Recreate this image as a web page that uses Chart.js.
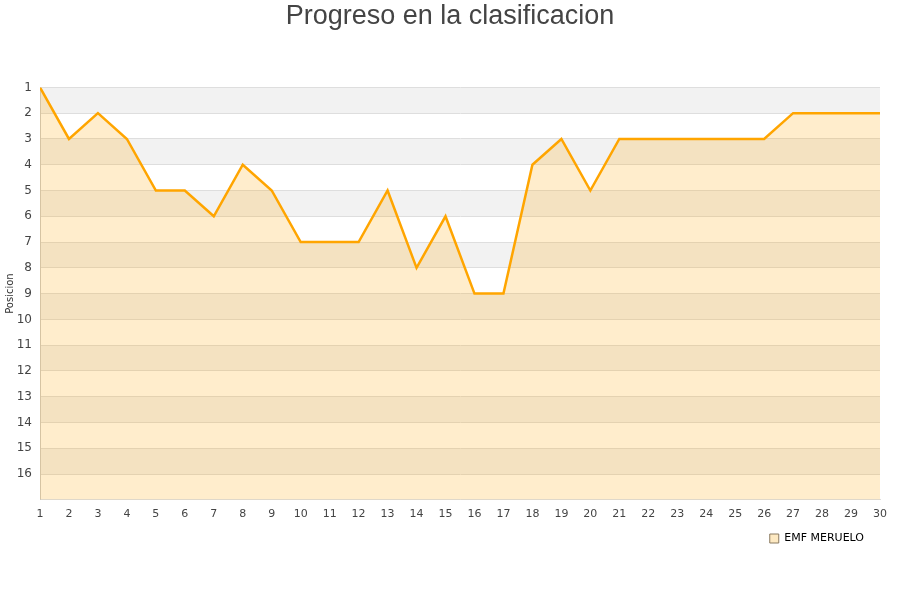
<!DOCTYPE html>
<html>
<head>
<meta charset="utf-8">
<script src="https://cdn.jsdelivr.net/npm/chart.js@4.4.0/dist/chart.umd.min.js"></script>
<style>
  html, body { margin: 0; padding: 0; background: #fff; }
  #wrap { width: 900px; height: 600px; }
</style>
</head>
<body>
<div id="wrap"><canvas id="chart"></canvas></div>
<script>
// jornadas y posicion en cada una
const jornadas = [1, 2, 3, 4, 5, 6, 7, 8, 9, 10, 11, 12, 13, 14, 15, 16, 17, 18, 19, 20, 21, 22, 23, 24, 25, 26, 27, 28, 29, 30];
const posiciones = [1, 3, 2, 3, 5, 5, 6, 4, 5, 7, 7, 7, 5, 8, 6, 9, 9, 4, 3, 5, 3, 3, 3, 3, 3, 3, 2, 2, 2, 2];
const equipo = 'EMF MERUELO';
const numEquipos = 16;

// franjas grises alternas en el fondo
const bandas = {
	id: 'bandas',
	afterLayout(chart) {
		// leyenda un poco metida hacia dentro, titulo centrado en el lienzo
		chart.legend.right = chart.chartArea.right - 12;
		chart.titleBlock.right = chart.width;
	},
	beforeDraw(chart) {
		const ctx = chart.ctx, area = chart.chartArea, y = chart.scales.y;
		ctx.save();
		ctx.fillStyle = '#f2f2f2';
		for (let v = 1; v < numEquipos; v += 2) {
			const top = y.getPixelForValue(v);
			const bottom = y.getPixelForValue(v + 1);
			ctx.fillRect(area.left, top, area.right - area.left, bottom - top);
		}
		ctx.restore();
	}
};

new Chart(document.getElementById('chart'), {
	type: 'line',
	data: {
		datasets: [{
			label: equipo,
			data: jornadas.map((j, i) => ({x: j, y: posiciones[i]})),
			borderColor: '#ffa500',
			backgroundColor: 'rgba(255,165,0,0.2)',
			borderWidth: 2.5,
			pointRadius: 0,
			tension: 0,
			fill: 'start'
		}]
	},
	options: {
		responsive: true,
		maintainAspectRatio: false,
		animation: false,
		layout: { padding: { left: 0, right: 20, top: 0, bottom: 46 } },
		plugins: {
			title: {
				display: true,
				text: 'Progreso en la clasificacion',
				color: '#444',
				font: { family: 'Liberation Sans', size: 27, weight: 'normal' },
				padding: { top: 0, bottom: 55 }
			},
			legend: {
				position: 'bottom',
				align: 'end',
				labels: {
					color: '#000',
					font: { family: 'DejaVu Sans', size: 11 },
					boxWidth: 9,
					boxHeight: 9,
					padding: 4,
					generateLabels: (chart) => [{
						text: equipo,
						fillStyle: '#fde9c2',
						strokeStyle: '#8a7a60',
						lineWidth: 1,
						datasetIndex: 0
					}]
				}
			},
			tooltip: { enabled: false }
		},
		scales: {
			x: {
				type: 'linear',
				min: 1,
				max: 30,
				grid: { display: false, drawTicks: false },
				border: { color: '#ddd' },
				ticks: {
					stepSize: 1,
					color: '#444',
					padding: 8,
					font: { family: 'DejaVu Sans', size: 11 },
					maxRotation: 0,
					autoSkip: false
				}
			},
			y: {
				reverse: true,
				min: 1,
				max: numEquipos + 1,
				grid: { color: '#dedede', drawTicks: false },
				border: { color: '#ccc' },
				afterFit: (scale) => { scale.width = 40; },
				title: {
					display: true,
					text: 'Posicion',
					color: '#333',
					font: { family: 'DejaVu Sans', size: 10 },
					padding: { top: 4, bottom: 0 }
				},
				ticks: {
					stepSize: 1,
					color: '#444',
					padding: 8,
					font: { family: 'DejaVu Sans', size: 12 },
					callback: (v) => v > numEquipos ? '' : v
				}
			}
		}
	},
	plugins: [bandas]
});
</script>
</body>
</html>
